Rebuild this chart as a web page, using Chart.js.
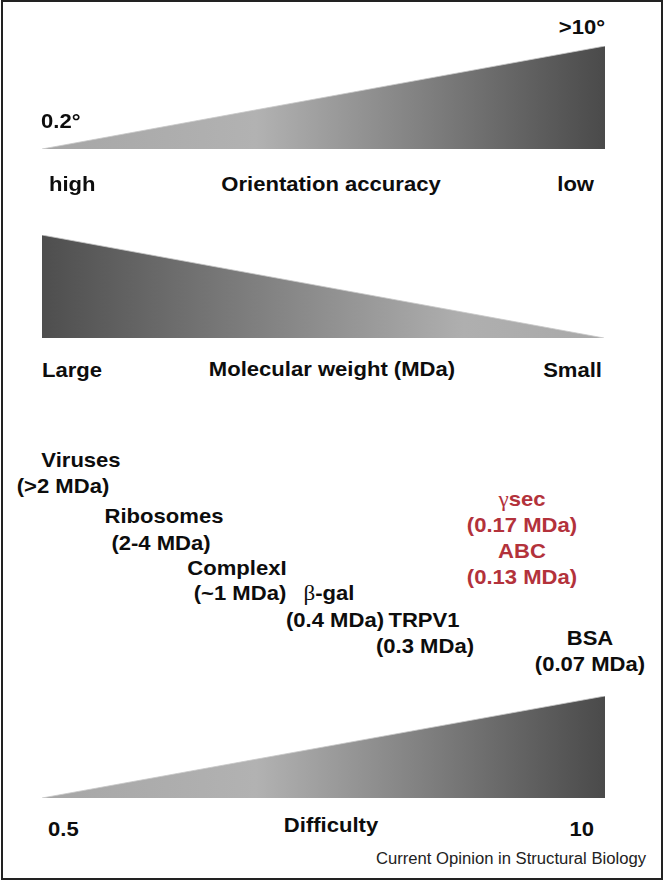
<!DOCTYPE html>
<html lang="en">
<head>
    <meta charset="UTF-8">
    <title>Cryo-EM difficulty scales</title>
    <script src="https://cdn.jsdelivr.net/npm/chart.js@4/dist/chart.umd.min.js"></script>
    <style>
        body { margin: 0; background: #fff; }
        #fig { position: relative; width: 665px; height: 881px; font-family: "Liberation Sans", Arial, sans-serif; }
        #frame { position: absolute; left: 1px; top: 0; width: 662px; height: 880px; box-sizing: border-box; border: 2px solid #222; }
        .tri { position: absolute; }
        .lbl { position: absolute; white-space: nowrap; font-weight: bold; font-size: 21px; line-height: 21px; color: #0d0d0d; }
        .greek { font-family: "Liberation Serif", serif; font-weight: normal; font-size: 22px; }
    </style>
</head>
<body>
<div id="fig">
    <div id="frame"></div>
    <div class="tri" style="left:42px; top:46px; width:563px; height:103px;"><canvas id="accuracy"></canvas></div>
    <div class="tri" style="left:42px; top:235px; width:562px; height:103px;"><canvas id="weight"></canvas></div>
    <div class="tri" style="left:42px; top:696px; width:563px; height:102px;"><canvas id="difficulty"></canvas></div>
</div>
<script>
    // scale ends (relative height of the wedge at each end)
    const accuracyEnds = ['high', 'low'];
    const accuracyValues = [0, 1];
    const accuracyRange = ['0.2°', '>10°'];

    const weightEnds = ['Large', 'Small'];
    const weightValues = [1, 0];

    const difficultyEnds = ['0.5', '10'];
    const difficultyValues = [0, 1];

    // samples, from large to small
    const molecules = ['Viruses', 'Ribosomes', 'ComplexI', 'β-gal', 'TRPV1', 'BSA'];
    const moleculeMass = ['(>2 MDa)', '(2-4 MDa)', '(~1 MDa)', '(0.4 MDa)', '(0.3 MDa)', '(0.07 MDa)'];
    const membraneProteins = ['γsec', 'ABC'];
    const membraneMass = ['(0.17 MDa)', '(0.13 MDa)'];

    function wedge(id, ends, values, stops) {
        const ctx = document.getElementById(id).getContext('2d');
        return new Chart(ctx, {
            type: 'line',
            data: {
                labels: ends,
                datasets: [{
                    data: values,
                    fill: 'origin',
                    tension: 0,
                    borderWidth: 1,
                    borderColor: 'rgba(200,200,200,0.8)',
                    pointRadius: 0,
                    backgroundColor: function(c) {
                        const area = c.chart.chartArea;
                        if (!area) return '#888';
                        const g = c.chart.ctx.createLinearGradient(area.left, 0, area.right, 0);
                        stops.forEach(s => g.addColorStop(s[0], s[1]));
                        return g;
                    }
                }]
            },
            options: {
                responsive: true,
                maintainAspectRatio: false,
                animation: false,
                layout: { padding: 0 },
                plugins: { legend: { display: false }, tooltip: { enabled: false } },
                scales: {
                    x: { display: false, offset: false },
                    y: { display: false, min: 0, max: 1 }
                }
            }
        });
    }

    const risingStops = [[0, '#a6a6a6'], [0.38, '#b2b2b2'], [1, '#4a4a4a']];
    const fallingStops = [[0, '#4e4e4e'], [0.75, '#afafaf'], [1, '#a9a9a9']];

    wedge('accuracy', accuracyEnds, accuracyValues, risingStops);
    wedge('weight', weightEnds, weightValues, fallingStops);
    wedge('difficulty', difficultyEnds, difficultyValues, risingStops);

    // text labels
    const fig = document.getElementById('fig');
    function label(text, x, baseline, align, opts) {
        opts = opts || {};
        const d = document.createElement('div');
        d.className = 'lbl';
        const size = opts.size || 21;
        d.style.fontSize = size + 'px';
        d.style.lineHeight = size + 'px';
        if (opts.weight) d.style.fontWeight = opts.weight;
        if (opts.color) d.style.color = opts.color;
        const sx = opts.sx || 1.05;
        if (opts.greek) {
            d.innerHTML = '<span class="greek">' + text[0] + '</span>' + text.slice(1);
        } else {
            d.textContent = text;
        }
        d.style.left = x + 'px';
        d.style.top = (baseline - size * 0.847) + 'px';
        if (align === 'center') {
            d.style.transformOrigin = 'center';
            d.style.transform = 'translateX(-50%) scaleX(' + sx + ')';
        } else if (align === 'right') {
            d.style.transformOrigin = 'right';
            d.style.transform = 'translateX(-100%) scaleX(' + sx + ')';
        } else {
            d.style.transformOrigin = 'left';
            d.style.transform = 'scaleX(' + sx + ')';
        }
        fig.appendChild(d);
    }

    label(accuracyRange[0], 41, 128, 'left');
    label(accuracyRange[1], 605, 34, 'right');
    label(accuracyEnds[0], 49, 191, 'left');
    label('Orientation accuracy', 331, 191, 'center');
    label(accuracyEnds[1], 594, 191, 'right');

    label(weightEnds[0], 42, 376.5, 'left');
    label('Molecular weight (MDa)', 331.5, 375.5, 'center');
    label(weightEnds[1], 602, 376.5, 'right');

    const molPos = [[81, 467, 62.5, 493], [164, 523, 161, 550], [237, 575, 240, 600],
                    [328.5, 600, 334.5, 627], [423.5, 627, 424.5, 653], [590, 645, 589.5, 671]];
    molecules.forEach((m, i) => {
        const p = molPos[i];
        label(m, p[0], p[1], 'center', { greek: m[0] === 'β' });
        label(moleculeMass[i], p[2], p[3], 'center');
    });

    const red = '#b3323b';
    const memPos = [[506, 532], [558, 584]];
    membraneProteins.forEach((m, i) => {
        label(m, 522, memPos[i][0], 'center', { color: red, greek: m[0] === 'γ' });
        label(membraneMass[i], 522, memPos[i][1], 'center', { color: red });
    });

    label(difficultyEnds[0], 48, 836, 'left');
    label('Difficulty', 331, 832, 'center');
    label(difficultyEnds[1], 594, 836, 'right');

    label('Current Opinion in Structural Biology', 646, 865, 'right',
          { size: 16, weight: 'normal', sx: 1.04, color: '#222' });
</script>
</body>
</html>
